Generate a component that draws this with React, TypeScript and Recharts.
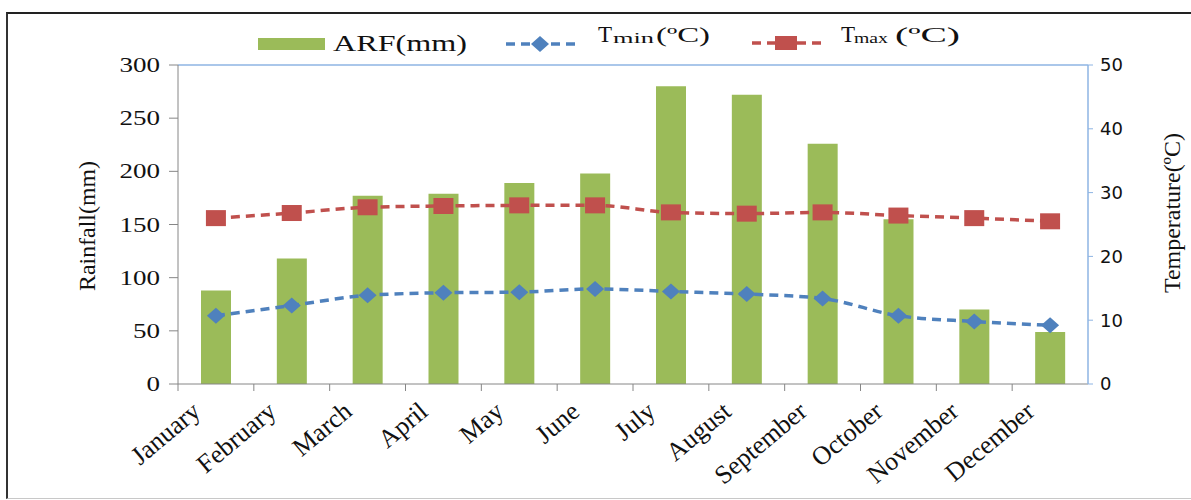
import React from 'react';
import { ComposedChart, Bar, Line, XAxis, YAxis, ReferenceLine } from 'recharts';

const months = [
  'January', 'February', 'March', 'April', 'May', 'June',
  'July', 'August', 'September', 'October', 'November', 'December',
];
// monthly rainfall (mm), left axis
const rainfall = [88, 118, 177, 179, 189, 198, 280, 272, 226, 155, 70, 49];
// temperatures (°C), right axis
const tMin = [10.7, 12.3, 13.9, 14.3, 14.4, 14.9, 14.5, 14.1, 13.4, 10.7, 9.8, 9.2];
const tMax = [26.0, 26.8, 27.7, 27.9, 28.0, 28.0, 26.9, 26.7, 26.9, 26.4, 26.0, 25.5];

const rainTicks = [0, 50, 100, 150, 200, 250, 300];
const tempTicks = [0, 10, 20, 30, 40, 50];

const COLORS = {
  bar: '#9BBB59',
  tmin: '#4F81BD',
  tmax: '#C0504D',
  axis: '#868686',
  rightAxis: '#8EB4E3',
  text: '#111',
};

const SERIF = '"Liberation Serif", "Times New Roman", serif';

const data = months.map((m, i) => ({
  month: m,
  arf: rainfall[i],
  tmin: tMin[i],
  tmax: tMax[i],
}));

const LeftTick = ({ x, y, payload }: any) => {
  const s = String(payload.value);
  return (
    <text
      x={x}
      y={y}
      dy={7}
      textAnchor="end"
      fontFamily={SERIF}
      fontSize={21}
      fill={COLORS.text}
      textLength={s.length * 13.5}
      lengthAdjust="spacingAndGlyphs"
    >
      {s}
    </text>
  );
};

const MonthTick = ({ x, y, payload }: any) => {
  const half = payload.offset || 38;
  const tx = x - 14;
  const ty = y + 30;
  return (
    <g>
      <line x1={x - half} x2={x - half} y1={y} y2={y + 7} stroke={COLORS.axis} />
      <text
        x={tx}
        y={ty}
        textAnchor="end"
        fontFamily={SERIF}
        fontSize={26}
        fill={COLORS.text}
        transform={`rotate(-40, ${tx}, ${ty})`}
      >
        {payload.value}
      </text>
    </g>
  );
};

const Diamond = ({ cx, cy }: any) => {
  if (cx == null || cy == null) return null;
  return (
    <path
      d={`M${cx} ${cy - 8} L${cx + 9} ${cy} L${cx} ${cy + 8} L${cx - 9} ${cy} Z`}
      fill={COLORS.tmin}
    />
  );
};

const Square = ({ cx, cy }: any) => {
  if (cx == null || cy == null) return null;
  return <rect x={cx - 10} y={cy - 8} width={20} height={16} fill={COLORS.tmax} />;
};

// legend + axis titles drawn over the chart
const Overlay = () => (
  <svg
    width={1183}
    height={484}
    style={{ position: 'absolute', left: 0, top: 0, pointerEvents: 'none' }}
  >
    {/* ARF */}
    <rect x={250} y={24} width={67} height={12} fill={COLORS.bar} />
    <text x={325} y={37} fontFamily={SERIF} fontSize={23} fill={COLORS.text}
      textLength={134} lengthAdjust="spacingAndGlyphs">ARF(mm)</text>

    {/* Tmin */}
    <line x1={498} x2={569} y1={30} y2={30} stroke={COLORS.tmin} strokeWidth={3.5} strokeDasharray="9 6" />
    <Diamond cx={532} cy={30} />
    <text x={590} y={28} fontFamily={SERIF} fontSize={23} fill={COLORS.text}>T</text>
    <text x={605} y={29} fontFamily={SERIF} fontSize={14} fill={COLORS.text}
      textLength={41} lengthAdjust="spacingAndGlyphs">min</text>
    <text x={648} y={28} fontFamily={SERIF} fontSize={22} fill={COLORS.text}
      textLength={54} lengthAdjust="spacingAndGlyphs">(ºC)</text>

    {/* Tmax */}
    <line x1={744} x2={814} y1={29} y2={29} stroke={COLORS.tmax} strokeWidth={3.5} strokeDasharray="9 6" />
    <rect x={767} y={22} width={22} height={14} fill={COLORS.tmax} />
    <text x={833} y={28} fontFamily={SERIF} fontSize={23} fill={COLORS.text}>T</text>
    <text x={846} y={29} fontFamily={SERIF} fontSize={14} fill={COLORS.text}
      textLength={34} lengthAdjust="spacingAndGlyphs">max</text>
    <text x={887} y={28} fontFamily={SERIF} fontSize={22} fill={COLORS.text}
      textLength={65} lengthAdjust="spacingAndGlyphs">(ºC)</text>

    {/* axis titles */}
    <text x={87} y={212} fontFamily={SERIF} fontSize={23} fill={COLORS.text} textAnchor="middle"
      transform="rotate(-90, 87, 212)" textLength={130} lengthAdjust="spacingAndGlyphs">
      Rainfall(mm)
    </text>
    <text x={1172} y={199} fontFamily={SERIF} fontSize={23} fill={COLORS.text} textAnchor="middle"
      transform="rotate(-90, 1172, 199)" textLength={160} lengthAdjust="spacingAndGlyphs">
      Temperature(ºC)
    </text>
  </svg>
);

export default function App() {
  return (
    <div
      style={{
        position: 'absolute',
        left: 6,
        top: 12,
        width: 1185,
        height: 487,
        boxSizing: 'border-box',
        borderTop: '2px solid #222',
        borderLeft: '2px solid #333',
        borderBottom: '1px solid #c8c8c8',
        background: '#fff',
      }}
    >
      <ComposedChart
        width={1183}
        height={484}
        data={data}
        margin={{ top: 51, right: 43, bottom: 14, left: 90 }}
      >
        <XAxis
          dataKey="month"
          height={100}
          interval={0}
          tick={<MonthTick />}
          tickLine={false}
          tickSize={0}
          tickMargin={0}
          axisLine={{ stroke: COLORS.axis }}
        />
        <YAxis
          yAxisId="rain"
          orientation="left"
          width={80}
          domain={[0, 300]}
          ticks={rainTicks}
          interval={0}
          tick={<LeftTick />}
          tickSize={9}
          tickMargin={9}
          axisLine={{ stroke: COLORS.axis }}
          tickLine={{ stroke: COLORS.axis }}
        />
        <YAxis
          yAxisId="temp"
          orientation="right"
          width={60}
          domain={[0, 50]}
          ticks={tempTicks}
          interval={0}
          tickSize={5}
          tickMargin={7}
          tick={{ fontFamily: '"DejaVu Sans", sans-serif', fontSize: 18, fill: COLORS.text }}
          axisLine={{ stroke: COLORS.rightAxis, strokeWidth: 1.5 }}
          tickLine={{ stroke: COLORS.rightAxis }}
        />
        <ReferenceLine yAxisId="rain" y={300} stroke={COLORS.rightAxis} strokeWidth={1.5} />
        <Bar yAxisId="rain" dataKey="arf" fill={COLORS.bar} barSize={30} isAnimationActive={false} />
        <Line
          yAxisId="temp"
          type="monotone"
          dataKey="tmin"
          stroke={COLORS.tmin}
          strokeWidth={3.5}
          strokeDasharray="9 6"
          dot={<Diamond />}
          activeDot={false}
          isAnimationActive={false}
        />
        <Line
          yAxisId="temp"
          type="monotone"
          dataKey="tmax"
          stroke={COLORS.tmax}
          strokeWidth={3.5}
          strokeDasharray="9 6"
          dot={<Square />}
          activeDot={false}
          isAnimationActive={false}
        />
      </ComposedChart>
      <Overlay />
    </div>
  );
}
